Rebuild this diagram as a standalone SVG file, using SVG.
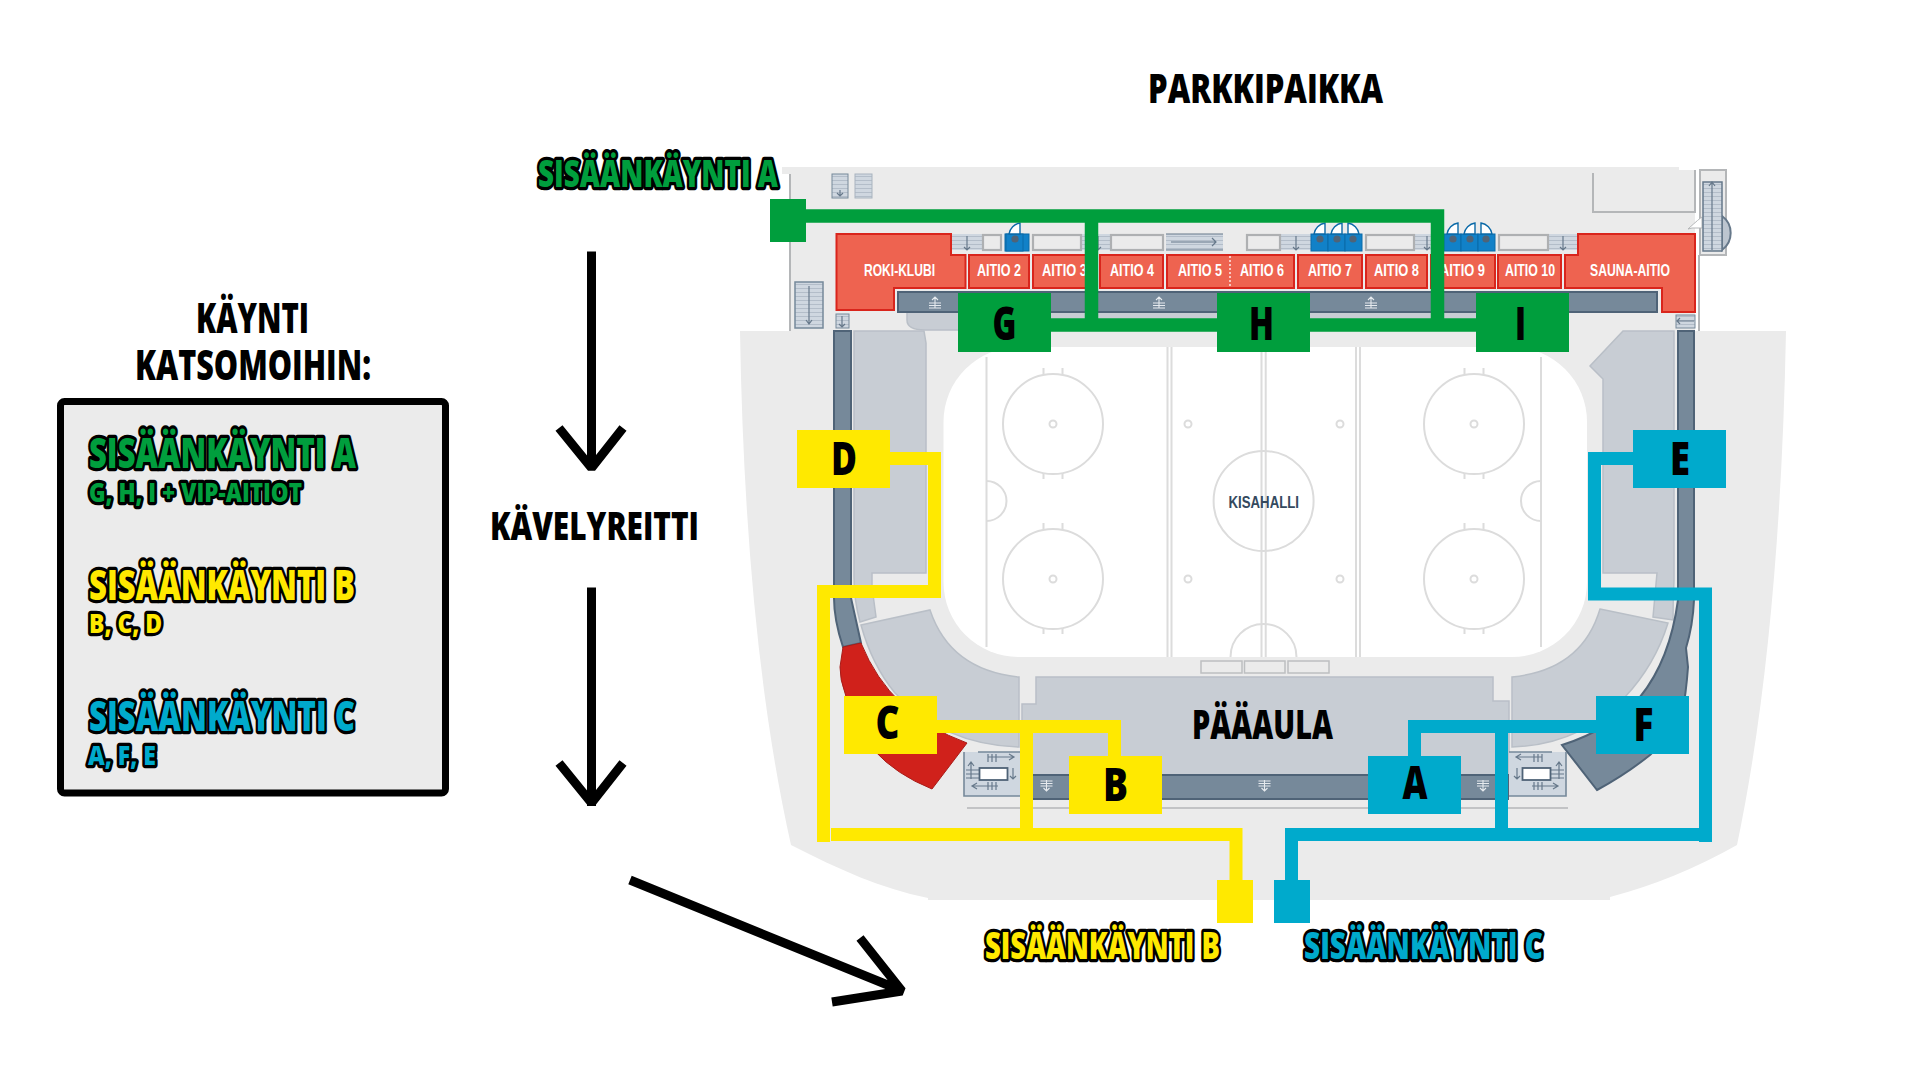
<svg xmlns="http://www.w3.org/2000/svg" width="1920" height="1080" viewBox="0 0 1920 1080">
<style>
text{font-family:"Open Sans","Noto Sans","Liberation Sans",sans-serif;font-weight:800}
.h{fill:#000}
.o{stroke:#000;stroke-width:6.500;stroke-linejoin:round;paint-order:stroke}
.og{fill:#009e3d}.oy{fill:#ffe900}.oc{fill:#00aacc}
.big{font-size:41px}.mid{font-size:42px}.leg{font-size:43px}.sub{font-size:27px}.ent{font-size:37px}
.k{font-size:46px;text-anchor:middle;fill:#000}
.nodeg{fill:#009e3d}.nodey{fill:#ffe900}.nodec{fill:#00aacc}
.room{fill:#ee6350;stroke:#d9251c;stroke-width:2}
.rl{font-family:"Liberation Sans Narrow","Liberation Sans",sans-serif;font-weight:700;font-size:16.5px;fill:#fff}
.bar{fill:#76899a;stroke:#4f6377;stroke-width:2}
.seat{fill:#c8cdd4;stroke:#b9bfc7;stroke-width:1.5}
.rk{fill:none;stroke:#dcdcdc;stroke-width:2}
.box{fill:#ebebeb;stroke:#aeb0b2;stroke-width:2.2}
.st{fill:url(#tread)}
.wall{fill:none;stroke:#b4b6b8;stroke-width:2}
.ar{fill:none;stroke:#66788a;stroke-width:1.2}
.cg{fill:none;stroke:#009e3d;stroke-width:13.5}
.cy{fill:none;stroke:#ffe900;stroke-width:13}
.cc{fill:none;stroke:#00aacc;stroke-width:13}
.walk{fill:none;stroke:#000;stroke-width:9;stroke-linejoin:bevel}
</style>
<defs>
<pattern id="tread" width="4" height="4" patternUnits="userSpaceOnUse"><rect width="4" height="4" fill="#cfd7e0"/><path d="M0 .5H4" stroke="#a6b2be" stroke-width=".7"/></pattern>
<g id="door"><rect x="-9" y="-5" width="17" height="17" fill="#1181c8" stroke="#0b6aa8"/><path d="M-6-5A13 13 0 0 1 5-16V-5Z" fill="#fff" stroke="#0b6aa8" stroke-width="1.4"/><circle r="3.6" fill="#4f6377"/></g>
<g id="up"><path d="M0 0V11M-3 3L0 0L3 3M-6 6H6M-6 8.5H6M-6 11H6" fill="none" stroke="#e6eaee" stroke-width="1.1"/></g>
<g id="down"><path d="M0 0V11M-3 8L0 11L3 8M-6 1H6M-6 3.5H6M-6 6H6" fill="none" stroke="#e6eaee" stroke-width="1.1"/></g>
<g id="stairbox">
<path d="M0 0H57V44H0Z" fill="#cfd7e0"/>
<path d="M57 44H0V0M14 0H57" fill="none" stroke="#76899a" stroke-width="1.6"/>
<path d="M24 5H50M45 2L50 5L45 8M8 34H34M13 31L8 34L13 37M7 27V10M4 14L7 10L10 14M49 16V27M46 24L49 27L52 24M2 22H15M2 18H15M2 26H15M24 2V10M28 2V10M32 2V10M24 30V38M28 30V38M32 30V38" class="ar"/>
<rect x="15.500" y="16" width="28" height="12" fill="#fff" stroke="#4f6377" stroke-width="1.800"/>
</g>
</defs>
<rect width="1920" height="1080" fill="#fff"/>

<g id="map">
<path d="M782 167H1679V170H1695V331H1786Q1780 640 1737 845Q1675 880 1610 897V900H928V898C880 888 840 870 791 845Q745 640 740 331H790V174H782Z" fill="#ebebeb"/>
<path d="M790 174V331M1699 255V331" class="wall"/>
<path d="M1593 173V212H1695V170" class="wall"/>
<path d="M1700 170H1726V255H1700Z" fill="#ebebeb" stroke="#b4b6b8" stroke-width="2"/>
<path d="M1722 216A21 21 0 0 1 1722 250Z" fill="#bcc5cf" stroke="#66788a" stroke-width="2"/>
<path d="M1688 229Q1700 218 1702 217V228H1692Z" fill="#fff" stroke="#b4b6b8"/>
<rect x="1703" y="182" width="19" height="69" class="st" stroke="#66788a" stroke-width="1.500"/>
<path d="M1712 182V250M1709 186L1712 182L1715 186" class="ar"/>
<rect x="832" y="174" width="16" height="24" class="st" stroke="#76899a"/><path d="M840 190V196M837 193L840 196L843 193" class="ar"/>
<rect x="855" y="174" width="17" height="24" class="st" stroke="#a9b4bf"/>
<rect x="795" y="282" width="28" height="46" class="st" stroke="#76899a" stroke-width="1.500"/><path d="M809 286V324M806 320L809 324L812 320" class="ar"/>
<rect x="836" y="314" width="13" height="14" class="st" stroke="#76899a"/><path d="M842 316V327M839 324L842 327L845 324" class="ar"/>
<rect x="1676" y="315" width="19" height="13" class="st" stroke="#76899a"/><path d="M1694 321H1677M1680 318L1677 321L1680 324" class="ar"/>

<path d="M907 312H1530V320H1476V330H1079V330H925Q907 330 907 320Z" class="seat" stroke="none"/>
<rect x="952" y="234" width="31" height="16" class="st"/><path d="M967 236V250M964 247L967 250L970 247" class="ar"/>
<rect x="1081" y="234" width="30" height="16" class="st"/><path d="M1098 236V250M1095 247L1098 250L1101 247" class="ar"/>
<rect x="1166" y="234" width="57" height="16" class="st"/><path d="M1171 242H1216M1212 238L1216 242L1212 246M1166 234H1223M1166 250H1223" class="ar"/>
<rect x="1280" y="234" width="31" height="16" class="st"/><path d="M1296 236V250M1293 247L1296 250L1299 247" class="ar"/>
<rect x="1414" y="234" width="18" height="16" class="st"/><path d="M1427 236V250M1424 247L1427 250L1430 247" class="ar"/>
<rect x="1548" y="234" width="30" height="16" class="st"/><path d="M1563 236V250M1560 247L1563 250L1566 247" class="ar"/>
<rect x="983" y="235" width="18" height="15" class="box"/>
<rect x="1033" y="235" width="48" height="15" class="box"/>
<rect x="1111" y="235" width="52" height="15" class="box"/>
<rect x="1247" y="235" width="33" height="15" class="box"/>
<rect x="1366" y="235" width="48" height="15" class="box"/>
<rect x="1499" y="235" width="49" height="15" class="box"/>

<rect x="1005" y="234" width="24" height="17" fill="#1181c8" stroke="#0b6aa8"/>
<use href="#door" x="1015" y="239"/>
<use href="#door" x="1320" y="239"/><use href="#door" x="1337" y="239"/><use href="#door" transform="translate(1353 239) scale(-1 1)"/>
<use href="#door" x="1453" y="239"/><use href="#door" x="1470" y="239"/><use href="#door" transform="translate(1486 239) scale(-1 1)"/>

<rect x="898" y="292" width="759" height="20" class="bar"/>
<use href="#up" x="935" y="297"/><use href="#up" x="1159" y="297"/><use href="#up" x="1371" y="297"/>

<path d="M836.500 234H951V255H965.500V288H894V310H836.500Z" class="room"/>
<rect x="969" y="255" width="60" height="33" class="room"/>
<rect x="1033" y="255" width="63" height="33" class="room"/>
<rect x="1100" y="255" width="63" height="33" class="room"/>
<rect x="1167" y="255" width="127" height="33" class="room"/>
<path d="M1230 256V287" stroke="#fff" stroke-width="1.300" stroke-dasharray="2 2"/>
<rect x="1298" y="255" width="64" height="33" class="room"/>
<rect x="1366" y="255" width="61" height="33" class="room"/>
<rect x="1431" y="255" width="64" height="33" class="room"/>
<rect x="1498" y="255" width="63" height="33" class="room"/>
<path d="M1565 255H1578V234H1695V312H1662V288H1565Z" class="room"/>
<text class="rl" x="864" y="276" textLength="71" lengthAdjust="spacingAndGlyphs">ROKI-KLUBI</text>
<text class="rl" x="977" y="276" textLength="44" lengthAdjust="spacingAndGlyphs">AITIO 2</text>
<text class="rl" x="1042" y="276" textLength="45" lengthAdjust="spacingAndGlyphs">AITIO 3</text>
<text class="rl" x="1110" y="276" textLength="44" lengthAdjust="spacingAndGlyphs">AITIO 4</text>
<text class="rl" x="1178" y="276" textLength="44" lengthAdjust="spacingAndGlyphs">AITIO 5</text>
<text class="rl" x="1240" y="276" textLength="44" lengthAdjust="spacingAndGlyphs">AITIO 6</text>
<text class="rl" x="1308" y="276" textLength="44" lengthAdjust="spacingAndGlyphs">AITIO 7</text>
<text class="rl" x="1374" y="276" textLength="45" lengthAdjust="spacingAndGlyphs">AITIO 8</text>
<text class="rl" x="1440" y="276" textLength="45" lengthAdjust="spacingAndGlyphs">AITIO 9</text>
<text class="rl" x="1505" y="276" textLength="50" lengthAdjust="spacingAndGlyphs">AITIO 10</text>
<text class="rl" x="1590" y="276" textLength="80" lengthAdjust="spacingAndGlyphs">SAUNA-AITIO</text>

<path d="M854 331H924L926 343V573H872V587L876 617L860 622Q854 600 854 577Z" class="seat"/>
<path d="M861 625L930 610Q950 670 1019 677V747Q944 745 895 693Q872 665 861 625Z" class="seat"/>
<path d="M1623 331H1674V580Q1673 600 1673 620L1653 617L1657 573H1603V379L1590 366Z" class="seat"/>
<path d="M1600 609L1668 623Q1655 665 1625 697Q1580 745 1512 747V677Q1582 670 1600 609Z" class="seat"/>
<path d="M1036 677H1493V701H1509V775H1022V704H1036Z" class="seat"/>
<path d="M834 331H851V598L861 643L843 647Q834 620 834 598Z" class="bar"/>
<path d="M1678 331H1694V600Q1693 625 1686 648L1688 667Q1686 695 1682 713Q1672 735 1650 755Q1625 775 1597 790L1562 745Q1610 730 1640 697Q1670 660 1678 600Z" class="bar"/>
<path d="M861 643Q890 715 967 743L932 789Q860 760 845 693Q840 680 840 667L843 647Z" fill="#d0211b" stroke="#a81c18"/>
<rect x="1021" y="775" width="487" height="24" class="bar"/>
<use href="#down" x="1046.500" y="780"/><use href="#down" x="1264.500" y="780"/><use href="#down" x="1483" y="780"/>
<use href="#stairbox" x="964" y="752"/>
<use href="#stairbox" transform="translate(1566 752) scale(-1 1)"/>
<path d="M967 808H1568" stroke="#b4b6b8" stroke-width="1.500"/>

<rect x="943.500" y="347" width="643.500" height="310" rx="75" ry="75" fill="#fff"/>
<path d="M986.500 357V647M1541 357V647M1167.500 347V657M1171.500 347V657M1356 347V657M1360 347V657M1261.500 347V657M1265.700 347V657" class="rk"/>
<circle cx="1053" cy="424" r="50" class="rk"/><circle cx="1053" cy="579" r="50" class="rk"/>
<circle cx="1474" cy="424" r="50" class="rk"/><circle cx="1474" cy="579" r="50" class="rk"/>
<circle cx="1263.600" cy="501" r="50" class="rk"/>
<g class="rk"><circle cx="1053" cy="424" r="3.500"/><circle cx="1053" cy="579" r="3.500"/><circle cx="1474" cy="424" r="3.500"/><circle cx="1474" cy="579" r="3.500"/><circle cx="1188" cy="424" r="3.500"/><circle cx="1188" cy="579" r="3.500"/><circle cx="1340" cy="424" r="3.500"/><circle cx="1340" cy="579" r="3.500"/></g>
<path d="M1043.500 368V374M1062.500 368V374M1043.500 473V479M1062.500 473V479M1043.500 523V529M1062.500 523V529M1043.500 628V634M1062.500 628V634M1464.500 368V374M1483.500 368V374M1464.500 473V479M1483.500 473V479M1464.500 523V529M1483.500 523V529M1464.500 628V634M1483.500 628V634" class="rk"/>
<path d="M986.500 481A20 20 0 0 1 986.500 521M1541 481A20 20 0 0 0 1541 521M1230.500 657A33 33 0 0 1 1296.500 657" class="rk"/>
<g fill="#ebebeb" stroke="#bdbfc1" stroke-width="1.500"><rect x="1201" y="661" width="41" height="12"/><rect x="1244.500" y="661" width="40.500" height="12"/><rect x="1288" y="661" width="41" height="12"/></g>
<text x="1228.500" y="507.500" textLength="70.500" lengthAdjust="spacingAndGlyphs" style="font-family:'Liberation Sans Narrow','Liberation Sans',sans-serif;font-weight:700;font-size:17px;fill:#34495e">KISAHALLI</text>
<text class="h big" x="1192" y="739" textLength="141" lengthAdjust="spacingAndGlyphs">PÄÄAULA</text>
</g>

<g id="walking-arrows">
<path class="walk" d="M591.500 251.500V469M559 428L591.500 468L623 428"/>
<path class="walk" d="M591.500 587.500V806M559 763L591.500 803L623 763"/>
<path class="walk" d="M630 880L900 990M860 938L902 991L832 1002"/>
</g>

<g id="connectors">
<path class="cg" d="M806 216H1437.500V325M1051 325H1476M1091.500 216V325"/>
<path class="cy" d="M890 458.500H934.500V591.500H823.500V842M831 834.500H1236V880M937 726.500H1114.500V756M1026.500 726.500V834.500"/>
<path class="cc" d="M1633 458.500H1594.500V594H1705.500V842M1705.500 834.500H1291.500V880M1596 726.500H1414.500V756M1501.500 726.500V834.500"/>
</g>

<g id="node-entrance-a"><rect class="nodeg" x="770" y="199" width="36" height="43"/></g>
<g id="node-entrance-b"><rect class="nodey" x="1217" y="880" width="36" height="43"/></g>
<g id="node-entrance-c"><rect class="nodec" x="1274" y="880" width="36" height="43"/></g>
<g id="node-G"><rect class="nodeg" x="958" y="293" width="93" height="59"/><text class="k" x="1004.500" y="339.500" textLength="24" lengthAdjust="spacingAndGlyphs">G</text></g>
<g id="node-H"><rect class="nodeg" x="1217" y="293" width="93" height="59"/><text class="k" x="1261.500" y="339.500" textLength="25" lengthAdjust="spacingAndGlyphs">H</text></g>
<g id="node-I"><rect class="nodeg" x="1476" y="293" width="93" height="59"/><text class="k" x="1520.500" y="339.500" textLength="11" lengthAdjust="spacingAndGlyphs">I</text></g>
<g id="node-D"><rect class="nodey" x="797" y="430" width="93" height="58"/><text class="k" x="844" y="474.500" textLength="26" lengthAdjust="spacingAndGlyphs">D</text></g>
<g id="node-E"><rect class="nodec" x="1633" y="430" width="93" height="58"/><text class="k" x="1680" y="474.500" textLength="20" lengthAdjust="spacingAndGlyphs">E</text></g>
<g id="node-C"><rect class="nodey" x="844" y="696" width="93" height="58"/><text class="k" x="887.500" y="739" textLength="24" lengthAdjust="spacingAndGlyphs">C</text></g>
<g id="node-F"><rect class="nodec" x="1596" y="696" width="93" height="58"/><text class="k" x="1643.500" y="741" textLength="20" lengthAdjust="spacingAndGlyphs">F</text></g>
<g id="node-B"><rect class="nodey" x="1069" y="756" width="93" height="58"/><text class="k" x="1115.500" y="801" textLength="25" lengthAdjust="spacingAndGlyphs">B</text></g>
<g id="node-A"><rect class="nodec" x="1368" y="756" width="93" height="58"/><text class="k" x="1415" y="799" textLength="25" lengthAdjust="spacingAndGlyphs">A</text></g>

<g id="legend">
<rect x="60.500" y="401.500" width="385" height="391.500" rx="4" fill="#ebebeb" stroke="#000" stroke-width="7"/>
<text class="h mid" x="196" y="332.500" textLength="113" lengthAdjust="spacingAndGlyphs">KÄYNTI</text>
<text class="h mid" x="135" y="380" textLength="236" lengthAdjust="spacingAndGlyphs">KATSOMOIHIN:</text>
<text class="o og leg" x="89" y="467.500" textLength="267" lengthAdjust="spacingAndGlyphs">SISÄÄNKÄYNTI A</text>
<text class="o og sub" x="89" y="501.500" textLength="213" lengthAdjust="spacingAndGlyphs">G, H, I + VIP-AITIOT</text>
<text class="o oy leg" x="89" y="599.500" textLength="266" lengthAdjust="spacingAndGlyphs">SISÄÄNKÄYNTI B</text>
<text class="o oy sub" x="89" y="633" textLength="73" lengthAdjust="spacingAndGlyphs">B, C, D</text>
<text class="o oc leg" x="89" y="730.500" textLength="266" lengthAdjust="spacingAndGlyphs">SISÄÄNKÄYNTI C</text>
<text class="o oc sub" x="88" y="764.500" textLength="68" lengthAdjust="spacingAndGlyphs">A, F, E</text>
</g>

<g id="labels">
<text class="h big" x="1148" y="103" textLength="235" lengthAdjust="spacingAndGlyphs">PARKKIPAIKKA</text>
<text class="h" style="font-size:38px" x="490" y="539.500" textLength="209" lengthAdjust="spacingAndGlyphs">KÄVELYREITTI</text>
<text class="o og ent" x="538" y="187" textLength="240" lengthAdjust="spacingAndGlyphs">SISÄÄNKÄYNTI A</text>
<text class="o oy ent" x="985" y="959" textLength="235" lengthAdjust="spacingAndGlyphs">SISÄÄNKÄYNTI B</text>
<text class="o oc ent" x="1304" y="959" textLength="239" lengthAdjust="spacingAndGlyphs">SISÄÄNKÄYNTI C</text>
</g>
</svg>
